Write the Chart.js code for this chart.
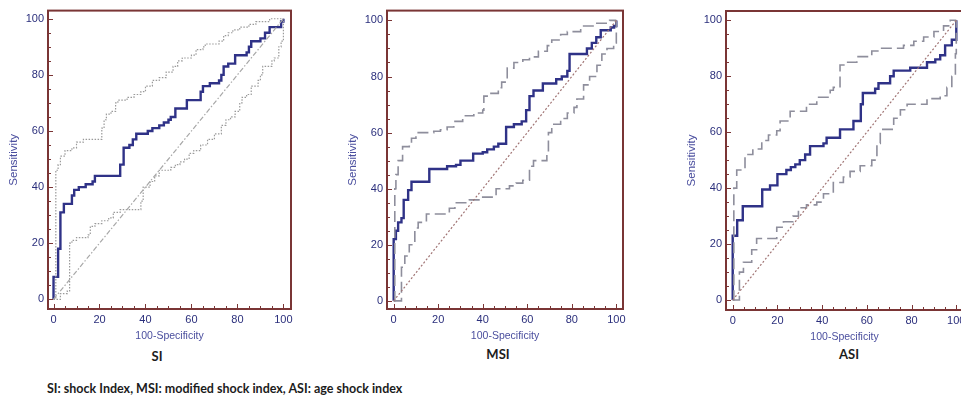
<!DOCTYPE html>
<html>
<head>
<meta charset="utf-8">
<script src="https://cdn.jsdelivr.net/npm/chart.js@4.4.1/dist/chart.umd.min.js"></script>
<style>
  html, body { margin: 0; padding: 0; background: #fff; }
  body { width: 961px; height: 398px; position: relative; overflow: hidden; }
  canvas { position: absolute; top: 0; }
  .name, .caption { position: absolute; font-family: Lato, "Open Sans", sans-serif; font-weight: 700; color: #1c1c1c; white-space: nowrap; }
  .name { font-size: 13px; transform: translate(-50%, -50%); }
  .caption { font-size: 12.5px; left: 47px; top: 388px; transform: translateY(-50%); }
</style>
</head>
<body>
<canvas id="si" width="301" height="345" style="left:0px"></canvas>
<canvas id="msi" width="294" height="345" style="left:339px"></canvas>
<canvas id="asi" width="295" height="346" style="left:678px"></canvas>
<div class="name" style="left:157px; top:356px">SI</div>
<div class="name" style="left:498px; top:354px">MSI</div>
<div class="name" style="left:849px; top:354px">ASI</div>
<div class="caption">SI: shock Index, MSI: modified shock index, ASI: age shock index</div>
<script>
// tick labels on both axes
const tickValues = [0, 20, 40, 60, 80, 100];
const diagonal = [[0, 0], [100, 100]];

// SI: ROC curve and 95% CI bounds, [100-specificity, sensitivity]
const siRoc = [[0,0],[0,8],[2,18],[3,31],[4.5,34],[8,37],[9,39],[11,40],[14,41],[17,42],[18,44],[29,48],[30.5,54],[33,55],[34.5,57],[36,59],[41,60],[43,61],[46,62],[48,63],[50,64],[51,65],[53,68],[58,71],[64,74],[65,76],[68,77],[72,78],[73,80],[74,83],[76,84],[79,87],[84,88],[85,90],[86,92],[90,93],[92,95],[94,97],[99,99],[100,100]];
const siUpper = [[0,0],[1,46],[2,48],[3,51],[5,53],[8,54],[10,56],[13,57],[21,61],[22,64],[23,66],[25,67],[27,70],[28,71],[32,72],[35,73],[38,74],[40,76],[43,78],[46,79],[49,81],[52,83],[54,85],[56,86],[60,87],[62,89],[65,90],[66,91],[72,92],[74,94],[76,95],[78,96],[81,97],[85,98],[88,99],[94,100],[100,100]];
const siLower = [[0,0],[2,0],[3,2],[6,3],[7,20],[8,21],[10,22],[15,23],[16,26],[18,27],[21,28],[24,29],[26,31],[29,32],[38,35],[39,40],[42,42],[44,44],[46,46],[51,47],[53,48],[55,49],[57,50],[59,52],[61,53],[64,55],[67,57],[70,59],[73,62],[75,64],[77,65],[79,67],[81,70],[82,72],[84,73],[86,76],[89,78],[90,80],[91,83],[95,85],[96,86],[98,90],[99,92],[100,96],[100,100]];

// MSI
const msiRoc = [[0,0],[0,22],[1,25],[2,28],[3.5,29.5],[4.5,36],[6.5,39.5],[8,42.5],[16,47],[24,48],[28,48.5],[30,50],[35.7,52.5],[40,53],[42,54],[45,55],[47,56],[50.5,62],[54,63],[57.5,64],[59.5,68],[61,73],[62.8,75],[67,77.5],[73,79],[75.5,80],[78,82],[79,88],[86.8,90],[89,92],[91,94],[93,96.5],[97.5,97.5],[99,98],[100,100]];
const msiUpper = [[0,0],[0.5,40],[1,45],[2,50],[4,55],[7,56],[8,58],[10,60],[18,60.5],[21,61],[24,62],[27,64],[31,66],[36,67],[40,68],[40.5,73],[43,74],[47,76],[48.5,78],[51,83],[54,85],[58,86],[61,87],[65,89],[69,91],[71,93],[75,95],[78,96],[84,98],[90,99],[97,100],[100,100]];
const msiLower = [[0,0],[3.5,0],[3.5,12],[5,16],[7,20],[9.5,26],[11,28],[14.7,31],[23,31],[25,33],[27.5,35],[34,36],[40,37],[46,40],[49,40],[52,41],[55,42],[58,43],[60.5,43],[61,48],[62.8,50],[68.8,52],[69.5,60],[71,63],[75,65],[78,67],[81,69],[82.3,72],[85.3,77],[88,80],[91.3,84],[93.5,88],[95.8,90],[98.8,92],[100,100]];

// ASI
const asiRoc = [[0,0],[0,23],[2,28.5],[4.5,33.5],[13.2,39.5],[16.7,41],[20,45],[24,46.5],[26,47.5],[28,48.5],[30,50],[32.4,52],[34.6,55],[40.6,56],[42,58],[48,61],[54,64],[57.3,70],[58.2,74],[63.7,75.5],[65.2,77.5],[70.4,80],[72,82],[79.4,83],[86.9,85],[90.6,86],[92.8,87.5],[95,91],[98,93],[100,100]];
const asiUpper = [[0,0],[0.5,40],[1.8,46.5],[4,47],[5.5,52],[9,54],[13,57],[16,59],[19.7,60.5],[21.2,64],[25.7,67.5],[33,70],[37.6,72.5],[43.6,75],[45,76],[48,84],[51,85],[55.5,87],[62.2,89],[66,90],[76.4,91],[81,92.5],[85.4,94],[90,96],[94.3,98],[97.3,100],[100,100]];
const asiLower = [[0,0],[2.5,0],[3,10],[4.8,13.5],[8.5,18],[10.7,22],[19.7,26],[22.7,28],[27,30],[29.4,33],[33,34],[37.6,35],[40.6,38],[45,42],[49.5,44],[52.5,46],[57,48],[62.2,50],[64.5,56],[66,61],[72,65],[75,68],[78,70],[86.9,72],[92.8,73],[95.8,76],[98,80],[99.6,88],[100,100]];

const FRAME = "#7a3535";
const NAVY = "#2f3287";
const toPts = (arr) => arr.map(([x, y]) => ({ x, y }));

// inward minor/major ticks and the brown box round the plot
const framePlugin = {
  id: "frame",
  afterDatasetsDraw(chart) {
    const { ctx, chartArea: a, scales } = chart;
    ctx.save();
    ctx.strokeStyle = FRAME;
    ctx.lineWidth = 1;
    for (let v = 0; v <= 100; v += 5) {
      const len = v % 20 === 0 ? 5 : 3;
      const px = Math.round(scales.x.getPixelForValue(v)) + 0.5;
      ctx.beginPath();
      ctx.moveTo(px, a.bottom);
      ctx.lineTo(px, a.bottom - len);
      ctx.stroke();
      const py = Math.round(scales.y.getPixelForValue(v)) + 0.5;
      ctx.beginPath();
      ctx.moveTo(a.left, py);
      ctx.lineTo(a.left + len, py);
      ctx.stroke();
    }
    ctx.lineWidth = 2;
    ctx.strokeRect(a.left, a.top, a.right - a.left, a.bottom - a.top);
    ctx.restore();
  }
};

function makeChart(id, opt) {
  const dashed = opt.dashed;
  new Chart(document.getElementById(id), {
    type: "scatter",
    data: {
      datasets: [
        {
          data: toPts(diagonal),
          showLine: true,
          borderColor: dashed ? "#a07474" : "#a8a8a8",
          borderWidth: 1.2,
          borderDash: dashed ? [2, 2] : [5, 2, 1.5, 2],
          pointRadius: 0
        },
        {
          data: toPts(opt.upper),
          showLine: true,
          stepped: true,
          borderColor: dashed ? "#8e8e9c" : "#9a9a9a",
          borderWidth: dashed ? 1.6 : 1.2,
          borderDash: dashed ? [11, 5] : [1.5, 1.5],
          pointRadius: 0
        },
        {
          data: toPts(opt.lower),
          showLine: true,
          stepped: true,
          borderColor: dashed ? "#8e8e9c" : "#9a9a9a",
          borderWidth: dashed ? 1.6 : 1.2,
          borderDash: dashed ? [11, 5] : [1.5, 1.5],
          pointRadius: 0
        },
        {
          data: toPts(opt.roc),
          showLine: true,
          stepped: true,
          borderColor: NAVY,
          borderWidth: 2.4,
          pointRadius: 0
        }
      ]
    },
    options: {
      responsive: false,
      animation: false,
      devicePixelRatio: 1,
      layout: { padding: { top: opt.top, right: 10, left: 0, bottom: 0 } },
      plugins: { legend: { display: false }, tooltip: { enabled: false } },
      scales: {
        x: {
          type: "linear",
          min: opt.xr[0],
          max: opt.xr[1],
          afterBuildTicks: (s) => { s.ticks = tickValues.map((v) => ({ value: v })); },
          afterFit: (s) => { s.height = 36; },
          grid: { display: false, drawTicks: false },
          border: { display: false },
          ticks: { padding: 4, color: "#2b2f7c", font: { family: "Liberation Sans", size: 11 }, maxRotation: 0 },
          title: {
            display: true,
            text: "100-Specificity",
            color: "#4a4e9e",
            font: { family: "Liberation Sans", size: 10.5 },
            padding: { top: 0, bottom: 3 }
          }
        },
        y: {
          type: "linear",
          min: opt.yr[0],
          max: opt.yr[1],
          afterBuildTicks: (s) => { s.ticks = tickValues.map((v) => ({ value: v })); },
          afterFit: (s) => { s.width = 48; },
          grid: { display: false, drawTicks: false },
          border: { display: false },
          ticks: { padding: 4, color: "#2b2f7c", font: { family: "Liberation Sans", size: 11 } },
          title: {
            display: true,
            text: "Sensitivity",
            color: "#4a4e9e",
            font: { family: "Liberation Sans", size: 11.5 },
            padding: { top: 7, bottom: 0 }
          }
        }
      }
    },
    plugins: [framePlugin]
  });
}

makeChart("si", { top: 9, xr: [-2.4, 103.3], yr: [-3.45, 102.9], roc: siRoc, upper: siUpper, lower: siLower, dashed: false });
makeChart("msi", { top: 9, xr: [-3.0, 103.0], yr: [-2.9, 103.5], roc: msiRoc, upper: msiUpper, lower: msiLower, dashed: true });
makeChart("asi", { top: 11, xr: [-3.0, 103.0], yr: [-3.55, 103.3], roc: asiRoc, upper: asiUpper, lower: asiLower, dashed: true });
</script>
</body>
</html>
